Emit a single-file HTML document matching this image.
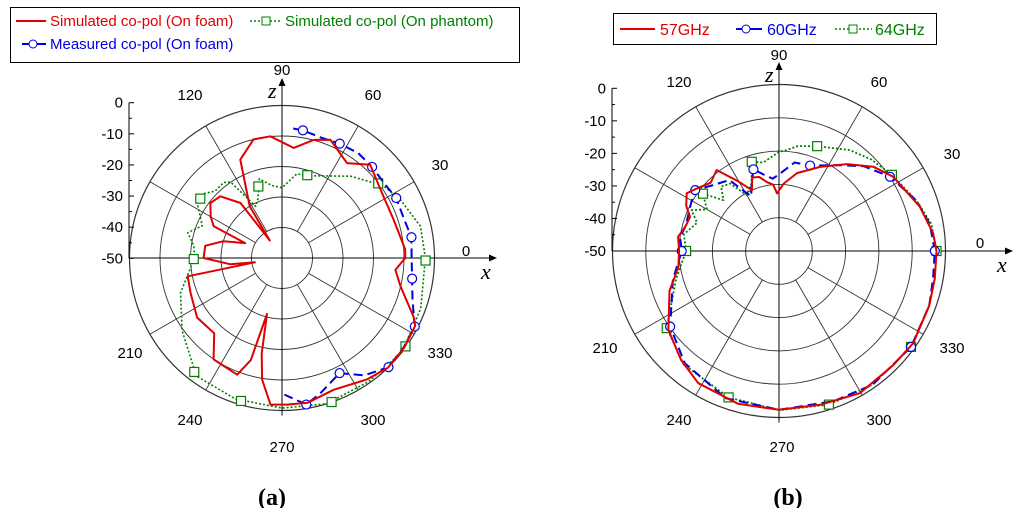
<!DOCTYPE html>
<html><head><meta charset="utf-8">
<style>
body{margin:0;background:#fff;width:1024px;height:508px;overflow:hidden}
svg{position:absolute;left:0;top:0}
text{font-family:"Liberation Sans",sans-serif}
</style></head>
<body>
<svg id="s" width="1024" height="508" viewBox="0 0 1024 508"></svg>
<script>
// ---- Chart (a) data: angle (deg), gain (dB) ----
const aRedAng=[0,4,19,33,46.6,55.6,67.8,75,84,95.5,103.5,113,122,125,127,135,142.5,150,155,158,164,171,180,187,189,191,201,215,228,236,249,253,255,258,260.7,265.5,272,280,291.4,305,314,324,333,336,346.5,354,360];
const aRedDb=[-9.6,-9.5,-11.3,-10.9,-7.9,-12.3,-8.1,-9.9,-13.7,-9.9,-10,-15,-30,-43,-27.4,-21.4,-20.4,-23,-25.3,-37,-30,-24.5,-24.3,-33,-41,-18.5,-17.9,-16,-16.8,-9.9,-9,-15,-31,-18,-9.6,-1.8,-1.9,-1.8,-3.6,-1.4,0,-0.3,-1,-2.8,-10,-12.6,-9.6];
const aBlueAng=[-89,-80.6,-74,-63.4,-55,-45.7,-36,-27.3,-18,-9,0,9,18,27.7,36,45.3,54,63.2,72,80.7,86];
const aBlueDb=[-5.2,-1.3,-4,-7.8,-3,0,-0.5,-1,-5,-6.8,-7.5,-7,-8,-7.7,-8.5,-8,-7.5,-8,-8.5,-7.6,-7.3];
const aGreenAng=[0,12.9,26,35.6,50,71,80,90,98,106,112,117,124,127.6,135,140,147,158,165,172,180,199,216,234,251.7,270,287,305,322,340,360];
const aGreenDb=[-3,-3.4,-6.7,-9.2,-15,-21.5,-22,-27,-26,-23,-29,-31,-20,-18.7,-19,-17,-16.8,-21.8,-18,-20.8,-21.3,-14.8,-9.5,-2.2,-1.3,-0.8,0,-0.5,0,-1.6,-3];
const aBlueMk=[-80.6,-63.4,-45.7,-27.3,-9,9.1,27.7,45.3,63.2,80.7];
const aGreenMk=[-1,37.8,73,108.3,144,180.7,232.4,254,289,324.4];
// ---- Chart (b) data ----
const bRedAng=[0,6.5,17.5,33,41.8,52,64,77,86,92,95,100,105,110,114,120,127.6,135,142.7,148,154,159,165,172,180,189,200,215.5,228,238.6,255,270,285,299.6,315,325.5,340,350,360];
const bRedDb=[-2.7,-3.4,-5.7,-9.1,-12,-16.9,-21.9,-26,-29.7,-32.7,-30,-29,-27,-26.5,-30,-26,-19.3,-21,-19,-17.3,-19,-21.4,-21,-19.4,-20,-19.4,-15,-9.2,-6,-3.5,-2.5,-2.3,-2.2,-0.9,-1.5,-1.1,-2,-2.5,-2.7];
const bBlueAng=[0,10,20,33.8,45,55,70,80,90,95,100,107.4,112,117,125,135,144,152,165,172,180,195,214.8,230,250,270,290,305,324,340,350,360];
const bBlueDb=[-3.2,-4,-6,-9.9,-14,-18.5,-22.7,-23,-27,-28.2,-27,-24.3,-28,-31.6,-24,-22,-18.9,-20,-21,-20,-20.8,-17,-10.2,-6,-3,-2.3,-2,-1,-1,-2,-3,-3.2];
const bGreenAng=[0,10,20,34,45,55,70,80,85.7,90,100,107,112,120,126,132,137.5,143,150,155,161,170,180,195,214.5,230,251,270,288,305,324,340,350,360];
const bGreenDb=[-2.7,-3.5,-6,-9.1,-11,-13,-16.5,-18,-19.6,-20.2,-23,-22,-28,-30.6,-25,-24,-27.4,-21.4,-25,-21,-24,-21,-22.1,-18,-9.1,-5.5,-3.5,-2.2,-1.5,-1,-1,-2,-2.5,-2.7];
const bBlueMk=[0,33.8,70,107.4,144,180,214.8,324];
const bGreenMk=[0,34,70,107,143,180,214.5,251,288,324];

const NS="http://www.w3.org/2000/svg";
const svg=document.getElementById('s');
function el(tag,attrs,parent){const e=document.createElementNS(NS,tag);for(const k in attrs)e.setAttribute(k,attrs[k]);(parent||svg).appendChild(e);return e;}
function interp(angs,dbs,a){
  a=((a%360)+360)%360;
  const n=angs.length;
  for(let i=0;i<n-1;i++){let a0=((angs[i]%360)+360)%360,a1=a0+(angs[i+1]-angs[i]);
    if(a>=a0&&a<=a1)return dbs[i]+(dbs[i+1]-dbs[i])*(a-a0)/(a1-a0||1);
    if(a+360>=a0&&a+360<=a1)return dbs[i]+(dbs[i+1]-dbs[i])*(a+360-a0)/(a1-a0||1);}
  return dbs[0];
}
function chart(o){
  const g=el('g',{});
  
  
  const cx=o.cx,cy=o.cy,ring=o.ring;
  const rOf=db=>Math.max(0,(db+50))*ring/10;
  const pt=(a,db)=>{const r=rOf(db),t=a*Math.PI/180;return[cx+r*Math.cos(t),cy-r*Math.sin(t)];};
  for(let k=1;k<=5;k++){const c=el('circle',{cx:cx,cy:cy,r:k*ring,fill:'none',stroke:'#333','stroke-width':k==5?1.2:0.9},g);
    }
  for(let a=30;a<360;a+=30){if(a%90==0)continue;const t=a*Math.PI/180;
    const l=el('line',{x1:cx+ring*Math.cos(t),y1:cy-ring*Math.sin(t),x2:cx+5*ring*Math.cos(t),y2:cy-5*ring*Math.sin(t),stroke:'#333','stroke-width':0.9},g);
    }
  const xa=el('line',{x1:o.axX,y1:cy,x2:o.xEnd,y2:cy,stroke:'#000','stroke-width':1},g);
  
  el('path',{d:`M${o.xEnd+8},${cy} L${o.xEnd},${cy-3.5} L${o.xEnd},${cy+3.5}Z`,fill:'#000'},g);
  const za=el('line',{x1:cx,y1:cy+5*ring+5,x2:cx,y2:o.zEnd,stroke:'#000','stroke-width':1},g);
  
  el('path',{d:`M${cx},${o.zEnd-8} L${cx-3.5},${o.zEnd} L${cx+3.5},${o.zEnd}Z`,fill:'#000'},g);
  const xl=el('text',{x:o.xEnd-8,y:cy+21,'font-size':22,style:'font-family:"Liberation Serif",serif;font-style:italic'},g);xl.textContent='x';
  
  const zl=el('text',{x:cx-14,y:o.zEnd+12,'font-size':22,style:'font-family:"Liberation Serif",serif;font-style:italic'},g);zl.textContent='z';
  
  const y0=o.y0,y50=o.y50,sc=(y50-y0)/50;
  const ra=el('line',{x1:o.axX,y1:y0,x2:o.axX,y2:y50,stroke:'#000','stroke-width':1},g);
  
  for(let d=0;d<=50;d+=5){const y=y0+d*sc;el('line',{x1:o.axX,y1:y,x2:o.axX+(d%10==0?5:3),y2:y,stroke:'#000'},g);
    if(d%10==0){const t=el('text',{x:o.axX-6,y:y+5,'font-size':15,'text-anchor':'end'},g);t.textContent=d==0?'0':'-'+d;
      }}
  o.angLabels.forEach(L=>{const t=el('text',{x:L[1],y:L[2]+5,'font-size':15,'text-anchor':'middle'},g);t.textContent=L[0];
    });
  o.series.forEach(s=>{
    const d=s.ang.map((a,i)=>{const p=pt(a,s.db[i]);return (i?'L':'M')+p[0].toFixed(1)+','+p[1].toFixed(1);}).join(' ');
    const p=el('path',{d:d,fill:'none',stroke:s.color,'stroke-width':s.w,'stroke-dasharray':s.dash||'','stroke-linejoin':'round'},g);
    
    (s.mk||[]).forEach(a=>{const q=pt(a,interp(s.ang,s.db,a));
      let m;
      if(s.shape=='c')m=el('circle',{cx:q[0],cy:q[1],r:4.5,fill:'#fff',stroke:s.color,'stroke-width':1.2},g);
      else m=el('rect',{x:q[0]-4.5,y:q[1]-4.5,width:9,height:9,fill:'#fff',stroke:s.color,'stroke-width':1.2},g);
      });
  });
}
chart({name:'chart-a',cx:282,cy:258,ring:30.5,axX:129,xEnd:489,zEnd:86,y0:102.7,y50:258.3,
  angLabels:[['90',282,70],['120',190,95],['60',373,95],['30',440,165],['0',466,251],['330',440,353],['300',373,420],['270',282,447],['240',190,420],['210',130,353]],
  series:[
   {name:'green-simulated-phantom',ang:aGreenAng,db:aGreenDb,color:'#008000',w:1.6,dash:'2,2',mk:aGreenMk,shape:'s'},
   {name:'blue-measured-foam',ang:aBlueAng,db:aBlueDb,color:'#0000e0',w:2,dash:'9,5',mk:aBlueMk,shape:'c'},
   {name:'red-simulated-foam',ang:aRedAng,db:aRedDb,color:'#e00000',w:2}]});
chart({name:'chart-b',cx:779,cy:251,ring:33.3,axX:612,xEnd:1005,zEnd:70,y0:88.3,y50:251,
  angLabels:[['90',779,55],['120',679,82],['60',879,82],['30',952,154],['0',980,243],['330',952,348],['300',879,420],['270',782,447],['240',679,420],['210',605,348]],
  series:[
   {name:'green-64ghz',ang:bGreenAng,db:bGreenDb,color:'#008000',w:1.8,dash:'2,2',mk:bGreenMk,shape:'s'},
   {name:'blue-60ghz',ang:bBlueAng,db:bBlueDb,color:'#0000e0',w:2,dash:'9,5',mk:bBlueMk,shape:'c'},
   {name:'red-57ghz',ang:bRedAng,db:bRedDb,color:'#e00000',w:2}]});
</script>
<svg width="1024" height="508" style="pointer-events:none">
 <g>
  <rect x="10.5" y="7.5" width="509" height="55" fill="#fff" stroke="#000"/>
  <line x1="16" y1="21" x2="46" y2="21" stroke="#e00000" stroke-width="2"/>
  <text x="50" y="26" font-size="15" fill="#e00000">Simulated co-pol (On foam)</text>
  <line x1="250" y1="21" x2="282" y2="21" stroke="#008000" stroke-width="1.5" stroke-dasharray="2,2"/>
  <rect x="262" y="17" width="8" height="8" fill="#fff" stroke="#008000"/>
  <text x="285" y="26" font-size="15" fill="#008000">Simulated co-pol (On phantom)</text>
  <line x1="22" y1="44" x2="46" y2="44" stroke="#0000e0" stroke-width="2"/>
  <circle cx="33" cy="44" r="4" fill="#fff" stroke="#0000e0"/>
  <text x="50" y="49" font-size="15" fill="#0000e0">Measured co-pol (On foam)</text>
 </g>
 <g>
  <rect x="613.5" y="13.5" width="323" height="31" fill="#fff" stroke="#000"/>
  <line x1="620" y1="29" x2="655" y2="29" stroke="#e00000" stroke-width="2"/>
  <text x="660" y="35" font-size="16" fill="#e00000">57GHz</text>
  <line x1="736" y1="29" x2="762" y2="29" stroke="#0000e0" stroke-width="2"/>
  <circle cx="746" cy="29" r="4" fill="#fff" stroke="#0000e0"/>
  <text x="767" y="35" font-size="16" fill="#0000e0">60GHz</text>
  <line x1="835" y1="29" x2="872" y2="29" stroke="#008000" stroke-width="1.5" stroke-dasharray="2,2"/>
  <rect x="849" y="25" width="8" height="8" fill="#fff" stroke="#008000"/>
  <text x="875" y="35" font-size="16" fill="#008000">64GHz</text>
 </g>
 <text x="272" y="505" font-size="24" text-anchor="middle" style="font-family:'Liberation Serif',serif;font-weight:bold">(a)</text>
 <text x="788" y="505" font-size="24" text-anchor="middle" style="font-family:'Liberation Serif',serif;font-weight:bold">(b)</text>
</svg>
</body></html>
